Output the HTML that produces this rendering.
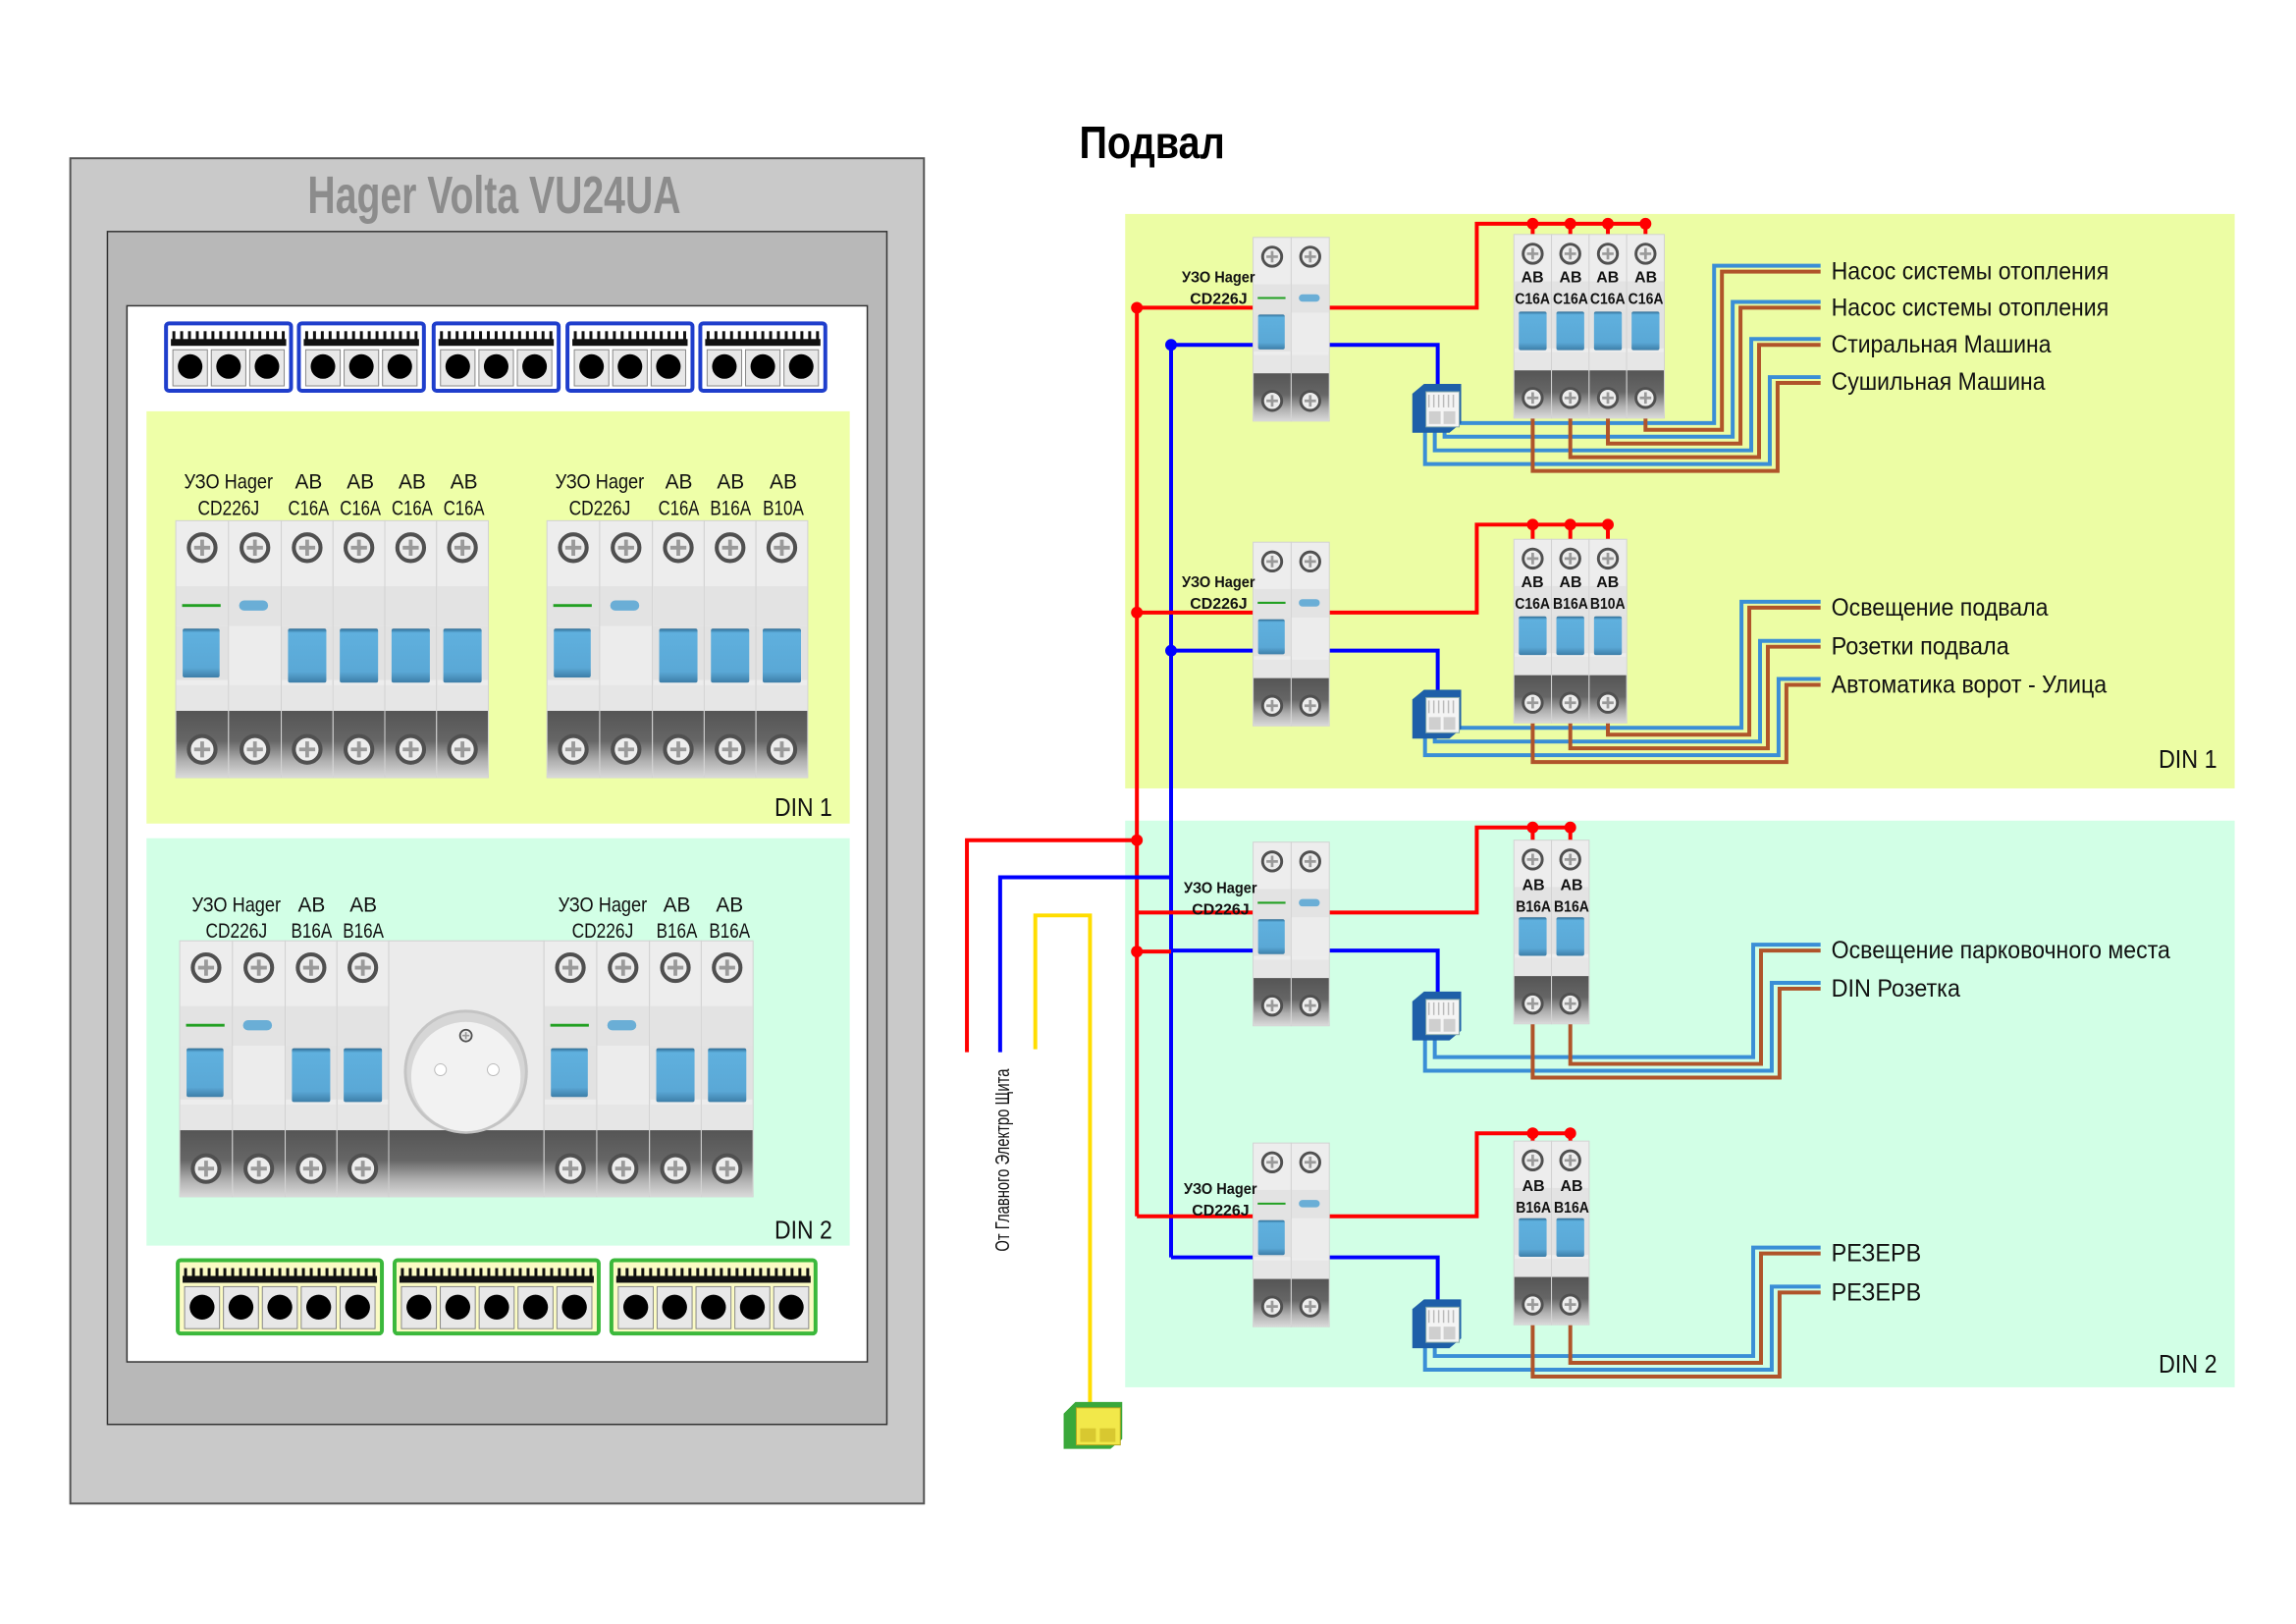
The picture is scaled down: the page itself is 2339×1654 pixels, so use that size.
<!DOCTYPE html>
<html><head><meta charset="utf-8"><style>
html,body{margin:0;padding:0;background:#fff;}
svg{display:block;}
text{font-family:"Liberation Sans","DejaVu Sans",sans-serif;}
</style></head><body>
<svg id="svg" xmlns="http://www.w3.org/2000/svg" width="2339" height="1654" viewBox="0 0 2339 1654">
<defs>
<linearGradient id="dk" x1="0" y1="0" x2="0" y2="1">
<stop offset="0" stop-color="#555"/><stop offset="0.45" stop-color="#666"/><stop offset="0.75" stop-color="#b0b0b0"/><stop offset="1" stop-color="#dadada"/>
</linearGradient>
<linearGradient id="tg" x1="0" y1="0" x2="0" y2="1">
<stop offset="0" stop-color="#2d6a92"/><stop offset="0.08" stop-color="#5fb0de"/><stop offset="0.8" stop-color="#5aa8d6"/><stop offset="1" stop-color="#3d7ea8"/>
</linearGradient>
</defs>
<rect width="2339" height="1654" fill="#fff"/>
<g transform="scale(0.995)">
<rect x="72" y="162" width="874" height="1377" fill="#c9c9c9" stroke="#555" stroke-width="2"/>
<rect x="110" y="237" width="798" height="1221" fill="#b8b8b8" stroke="#333" stroke-width="1.5"/>
<rect x="130" y="313" width="758" height="1081" fill="#fff" stroke="#333" stroke-width="1.5"/>
<rect x="150" y="421" width="720" height="422" fill="#eeffa8"/>
<rect x="150" y="858" width="720" height="417" fill="#d2ffe6"/>
<rect x="1152" y="219" width="1136" height="588" fill="#ecfda4"/>
<rect x="1152" y="840" width="1136" height="580" fill="#d2ffe6"/>
<g id="shapes"></g>

<text x="315" y="218" font-size="54" font-weight="bold" fill="#8c8c8c" textLength="382" lengthAdjust="spacingAndGlyphs">Hager Volta VU24UA</text>
<text x="1105" y="162" font-size="47" font-weight="bold" fill="#000" textLength="149" lengthAdjust="spacingAndGlyphs">Подвал</text>

<g font-size="21" fill="#111" text-anchor="middle">
<text x="234" y="500" textLength="91" lengthAdjust="spacingAndGlyphs">УЗО Hager</text>
<text x="234" y="527" textLength="63" lengthAdjust="spacingAndGlyphs">CD226J</text>
<text x="316" y="500">AB</text><text x="316" y="527" textLength="42" lengthAdjust="spacingAndGlyphs">C16A</text>
<text x="369" y="500">AB</text><text x="369" y="527" textLength="42" lengthAdjust="spacingAndGlyphs">C16A</text>
<text x="422" y="500">AB</text><text x="422" y="527" textLength="42" lengthAdjust="spacingAndGlyphs">C16A</text>
<text x="475" y="500">AB</text><text x="475" y="527" textLength="42" lengthAdjust="spacingAndGlyphs">C16A</text>
<text x="614" y="500" textLength="91" lengthAdjust="spacingAndGlyphs">УЗО Hager</text>
<text x="614" y="527" textLength="63" lengthAdjust="spacingAndGlyphs">CD226J</text>
<text x="695" y="500">AB</text><text x="695" y="527" textLength="42" lengthAdjust="spacingAndGlyphs">C16A</text>
<text x="748" y="500">AB</text><text x="748" y="527" textLength="42" lengthAdjust="spacingAndGlyphs">B16A</text>
<text x="802" y="500">AB</text><text x="802" y="527" textLength="42" lengthAdjust="spacingAndGlyphs">B10A</text>

<text x="242" y="933" textLength="91" lengthAdjust="spacingAndGlyphs">УЗО Hager</text>
<text x="242" y="960" textLength="63" lengthAdjust="spacingAndGlyphs">CD226J</text>
<text x="319" y="933">AB</text><text x="319" y="960" textLength="42" lengthAdjust="spacingAndGlyphs">B16A</text>
<text x="372" y="933">AB</text><text x="372" y="960" textLength="42" lengthAdjust="spacingAndGlyphs">B16A</text>
<text x="617" y="933" textLength="91" lengthAdjust="spacingAndGlyphs">УЗО Hager</text>
<text x="617" y="960" textLength="63" lengthAdjust="spacingAndGlyphs">CD226J</text>
<text x="693" y="933">AB</text><text x="693" y="960" textLength="42" lengthAdjust="spacingAndGlyphs">B16A</text>
<text x="747" y="933">AB</text><text x="747" y="960" textLength="42" lengthAdjust="spacingAndGlyphs">B16A</text>
</g>
<text x="793" y="835" font-size="26" fill="#111" textLength="59" lengthAdjust="spacingAndGlyphs">DIN 1</text>
<text x="793" y="1268" font-size="26" fill="#111" textLength="59" lengthAdjust="spacingAndGlyphs">DIN 2</text>
<text x="2210" y="786" font-size="26" fill="#111" textLength="60" lengthAdjust="spacingAndGlyphs">DIN 1</text>
<text x="2210" y="1405" font-size="26" fill="#111" textLength="60" lengthAdjust="spacingAndGlyphs">DIN 2</text>

<text transform="translate(1033,1281) rotate(-90)" font-size="20" fill="#111" textLength="187" lengthAdjust="spacingAndGlyphs">От Главного Электро Щита</text>

<g font-size="25" fill="#111">
<text x="1875" y="286" textLength="284" lengthAdjust="spacingAndGlyphs">Насос системы отопления</text>
<text x="1875" y="323" textLength="284" lengthAdjust="spacingAndGlyphs">Насос системы отопления</text>
<text x="1875" y="361" textLength="225" lengthAdjust="spacingAndGlyphs">Стиральная Машина</text>
<text x="1875" y="399" textLength="219" lengthAdjust="spacingAndGlyphs">Сушильная Машина</text>
<text x="1875" y="630" textLength="222" lengthAdjust="spacingAndGlyphs">Освещение подвала</text>
<text x="1875" y="670" textLength="182" lengthAdjust="spacingAndGlyphs">Розетки подвала</text>
<text x="1875" y="709" textLength="282" lengthAdjust="spacingAndGlyphs">Автоматика ворот - Улица</text>
<text x="1875" y="981" textLength="347" lengthAdjust="spacingAndGlyphs">Освещение парковочного места</text>
<text x="1875" y="1020" textLength="132" lengthAdjust="spacingAndGlyphs">DIN Розетка</text>
<text x="1875" y="1291" textLength="92" lengthAdjust="spacingAndGlyphs">РЕЗЕРВ</text>
<text x="1875" y="1331" textLength="92" lengthAdjust="spacingAndGlyphs">РЕЗЕРВ</text>
</g>

<g font-size="16" font-weight="bold" fill="#111">
<g text-anchor="end">
<text x="1285" y="289" textLength="75" lengthAdjust="spacingAndGlyphs">УЗО Hager</text><text x="1277" y="311">CD226J</text>
<text x="1285" y="601" textLength="75" lengthAdjust="spacingAndGlyphs">УЗО Hager</text><text x="1277" y="623">CD226J</text>
<text x="1287" y="914" textLength="75" lengthAdjust="spacingAndGlyphs">УЗО Hager</text><text x="1279" y="936">CD226J</text>
<text x="1287" y="1222" textLength="75" lengthAdjust="spacingAndGlyphs">УЗО Hager</text><text x="1279" y="1244">CD226J</text>
</g>
<g text-anchor="middle">
<text x="1569" y="289">AB</text><text x="1569" y="311" textLength="36" lengthAdjust="spacingAndGlyphs">C16A</text>
<text x="1608" y="289">AB</text><text x="1608" y="311" textLength="36" lengthAdjust="spacingAndGlyphs">C16A</text>
<text x="1646" y="289">AB</text><text x="1646" y="311" textLength="36" lengthAdjust="spacingAndGlyphs">C16A</text>
<text x="1685" y="289">AB</text><text x="1685" y="311" textLength="36" lengthAdjust="spacingAndGlyphs">C16A</text>
<text x="1569" y="601">AB</text><text x="1569" y="623" textLength="36" lengthAdjust="spacingAndGlyphs">C16A</text>
<text x="1608" y="601">AB</text><text x="1608" y="623" textLength="36" lengthAdjust="spacingAndGlyphs">B16A</text>
<text x="1646" y="601">AB</text><text x="1646" y="623" textLength="36" lengthAdjust="spacingAndGlyphs">B10A</text>
<text x="1570" y="911">AB</text><text x="1570" y="933" textLength="36" lengthAdjust="spacingAndGlyphs">B16A</text>
<text x="1609" y="911">AB</text><text x="1609" y="933" textLength="36" lengthAdjust="spacingAndGlyphs">B16A</text>
<text x="1570" y="1219">AB</text><text x="1570" y="1241" textLength="36" lengthAdjust="spacingAndGlyphs">B16A</text>
<text x="1609" y="1219">AB</text><text x="1609" y="1241" textLength="36" lengthAdjust="spacingAndGlyphs">B16A</text>
</g>
</g>
</g>
</svg>
<script>
const NS='http://www.w3.org/2000/svg';
const G=document.getElementById('shapes');
function el(t,a,p){const e=document.createElementNS(NS,t);for(const k in a)e.setAttribute(k,a[k]);(p||G).appendChild(e);return e;}
function screw(cx,cy,r){
  el('circle',{cx,cy,r,fill:'#ededed',stroke:'#505050','stroke-width':r*0.3});
  el('path',{d:`M${cx-r*0.6} ${cy}H${cx+r*0.6}M${cx} ${cy-r*0.6}V${cy+r*0.6}`,stroke:'#9a9a9a','stroke-width':r*0.28,fill:'none'});
}
function mod(x,y,w,h,kind){
  el('rect',{x,y,width:w,height:h,fill:'#ededed',stroke:'#d2d2d2','stroke-width':1});
  el('rect',{x:x+0.5,y:y+0.255*h,width:w-1,height:0.155*h,fill:'#e3e3e3'});
  el('rect',{x:x+0.5,y:y+0.41*h,width:w-1,height:0.21*h,fill:kind==='uzoR'?'#ececec':'#e2e2e2'});
  el('rect',{x:x+0.5,y:y+0.64*h,width:w-1,height:0.1*h,fill:'#e6e6e6'});
  el('rect',{x:x+0.5,y:y+0.74*h,width:w-1,height:0.26*h,fill:'url(#dk)'});
  screw(x+w/2,y+0.105*h,0.052*h);
  screw(x+w/2,y+0.89*h,0.052*h);
  if(kind==='uzoL'){
    el('line',{x1:x+0.12*w,x2:x+0.85*w,y1:y+0.33*h,y2:y+0.33*h,stroke:'#22a022','stroke-width':Math.max(2,h*0.011)});
    el('rect',{x:x+0.13*w,y:y+0.42*h,width:0.7*w,height:0.19*h,rx:2,fill:'url(#tg)'});
  }else if(kind==='uzoR'){
    el('rect',{x:x+0.2*w,y:y+0.31*h,width:0.55*w,height:0.04*h,rx:0.02*h,fill:'#6aaed6'});
  }else{
    el('rect',{x:x+0.13*w,y:y+0.42*h,width:0.74*w,height:0.21*h,rx:2,fill:'url(#tg)'});
  }
}
function uzo(x,y,w,h){mod(x,y,w/2,h,'uzoL');mod(x+w/2,y,w/2,h,'uzoR');}
function abs(x,y,w,h,n){for(let i=0;i<n;i++)mod(x+i*w,y,w,h,'ab');}
uzo(180,533,108,263);abs(288,533,53,263,4);
uzo(560,533,108,263);abs(668,533,53,263,3);
uzo(184,963,108,262);abs(292,963,53,262,2);
el('rect',{x:398,y:963,width:159,height:262,fill:'#ebebeb',stroke:'#d0d0d0'});
el('rect',{x:398.5,y:963+0.74*262,width:158,height:0.26*262,fill:'url(#dk)'});
el('circle',{cx:477,cy:1097,r:62,fill:'#d6d6d6',stroke:'#c4c4c4','stroke-width':3});
el('circle',{cx:477,cy:1102,r:56,fill:'#f2f2f2'});
el('circle',{cx:451,cy:1095,r:6,fill:'#fff',stroke:'#bbb'});
el('circle',{cx:505,cy:1095,r:6,fill:'#fff',stroke:'#bbb'});
screw(477,1060,6);
uzo(557,963,108,262);abs(665,963,53,262,2);
function termBlock(x,y,w,h,n,border,fill){
  el('rect',{x,y,width:w,height:h,rx:3,fill:fill,stroke:border,'stroke-width':4});
  for(let i=0;i<n*5;i++){const tx=x+8+i*(w-16)/(n*5-1);el('rect',{x:tx-1.5,y:y+8,width:3,height:14,fill:'#111'});}
  el('rect',{x:x+5,y:y+16,width:w-10,height:7,fill:'#111'});
  for(let i=0;i<n;i++){const cw=(w-10)/n,cx=x+5+cw*(i+0.5);
    el('rect',{x:cx-cw/2+2,y:y+27,width:cw-4,height:h-32,fill:'#e8e8e8',stroke:'#888'});
    el('circle',{cx,cy:y+h*0.64,r:Math.min(cw*0.32,h*0.2),fill:'#000'});}
}
[170,306,444,581,717].forEach(x=>termBlock(x,331,128,69,3,'#1f3ecc','#fff'));
[182,404,626].forEach(x=>termBlock(x,1290,209,75,5,'#3bb83b','#fbfbc4'));
const W=4,RED='#ff0000',BLU='#0000ff',LB='#3a8ed6',BR='#b0542a';
function pl(d,c){el('path',{d,stroke:c,'stroke-width':W,fill:'none','stroke-linejoin':'miter'});}
function dot(x,y,c){el('circle',{cx:x,cy:y,r:6,fill:c});}
const RB=1164,BB=1199;
pl(`M${RB} 315V1245`,RED);pl(`M${BB} 353V1287`,BLU);
pl(`M990 1077V860H${RB}`,RED);pl(`M1024 1077V898H${BB}`,BLU);
pl('M1060 1074V937H1116V1440','#ffdd00');
pl(`M${RB} 974H${BB}`,RED);
const rows=[
 {Yt:243,ab:240,n:4,rt:229,ry:315,by:353,ty:393,ob:433,vb:1755,L:[277,314,352,391]},
 {Yt:555,ab:552,n:3,rt:537,ry:627,by:666,ty:706,ob:745,vb:1783,L:[621,661,700]},
 {Yt:862,ab:860,n:2,rt:847,ry:934,by:973,ty:1015,ob:1082,vb:1795,L:[972,1011]},
 {Yt:1170,ab:1168,n:2,rt:1160,ry:1245,by:1287,ty:1330,ob:1388,vb:1795,L:[1282,1322]}
];
const AW=38.5,H=188,ABX=1550,UX=1283,UW=78,TX=1446;
rows.forEach(r=>{
  const c=i=>ABX+AW*i+AW/2;
  pl(`M${RB} ${r.ry}H${UX+5}`,RED);
  pl(`M${UX+UW-5} ${r.ry}H1512V${r.rt}H${c(r.n-1)}`,RED);
  for(let i=0;i<r.n;i++){pl(`M${c(i)} ${r.rt}V${r.ab+5}`,RED);}
  pl(`M${BB} ${r.by}H${UX+5}`,BLU);
  pl(`M${UX+UW-5} ${r.by}H1472V${r.ty+5}`,BLU);
  for(let k=0;k<r.n;k++){
    const bh=r.ob+14*k,rh=bh+7,vb=r.vb+19*k,vr=vb+8,L=r.L[k];
    const sx=TX+13+10*(r.n-1-k);
    pl(`M${sx} ${r.ty+40}V${bh}H${vb}V${L-5}H1864`,LB);
    pl(`M${c(r.n-1-k)} ${r.ab+H-5}V${rh}H${vr}V${L+1}H1864`,BR);
  }
  uzo(UX,r.Yt,UW,H);abs(ABX,r.ab,AW,H,r.n);
  for(let i=0;i<r.n;i++)dot(c(i),r.rt,RED);
  const y=r.ty;
  el('path',{d:`M${TX} ${y+10}L${TX+12} ${y}H${TX+50}V${y+40}L${TX+38} ${y+50}H${TX}Z`,fill:'#1e5fa8'});
  el('rect',{x:TX+14,y:y+8,width:34,height:36,fill:'#f4f4f4',stroke:'#8aa'});
  el('rect',{x:TX+17,y:y+28,width:12,height:13,fill:'#cfcfcf'});
  el('rect',{x:TX+32,y:y+28,width:12,height:13,fill:'#cfcfcf'});
  for(let i=0;i<6;i++)el('line',{x1:TX+17+i*5,x2:TX+17+i*5,y1:y+11,y2:y+24,stroke:'#bbb','stroke-width':1.5});
});
dot(RB,315,RED);dot(RB,627,RED);dot(RB,860,RED);dot(RB,974,RED);
dot(BB,353,BLU);dot(BB,666,BLU);
el('path',{d:'M1089 1447L1101 1435H1149V1473L1137 1483H1089Z',fill:'#3aa83a'});
el('rect',{x:1102,y:1441,width:45,height:38,fill:'#f2e84a',stroke:'#b8a820'});
el('rect',{x:1106,y:1462,width:16,height:14,fill:'#d8c830'});
el('rect',{x:1126,y:1462,width:16,height:14,fill:'#d8c830'});
</script>
</body></html>
